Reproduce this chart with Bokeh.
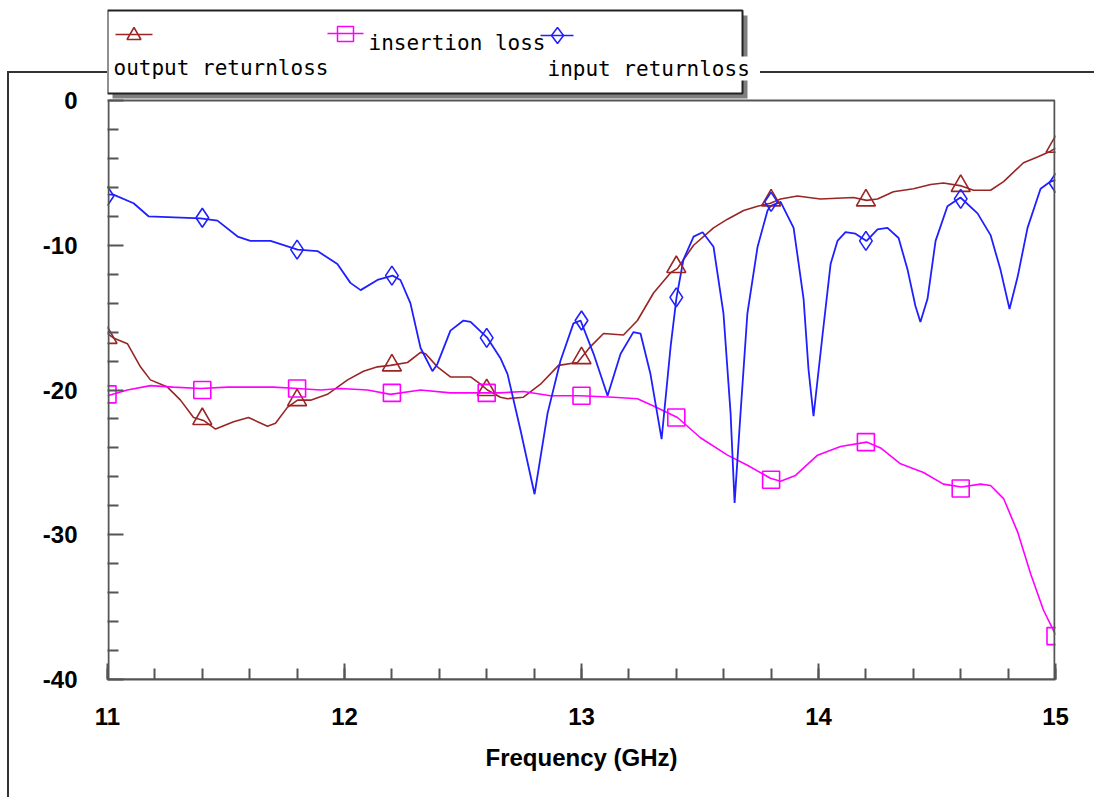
from bokeh.plotting import figure
from bokeh.models import (Range1d, SingleIntervalTicker, FixedTicker, BoxAnnotation, Label,
                          PolyAnnotation, PrintfTickFormatter)
from bokeh.embed import file_html
from bokeh.resources import INLINE

# ---------------- data ----------------
freq_out = [11.0, 11.025, 11.084, 11.139, 11.181, 11.253, 11.308, 11.363, 11.405, 11.456,
            11.532, 11.595, 11.675, 11.709, 11.759, 11.802, 11.857, 11.928, 12.013, 12.08,
            12.139, 12.194, 12.266, 12.321, 12.342, 12.392, 12.447, 12.532, 12.574, 12.603,
            12.658, 12.688, 12.755, 12.827, 12.903, 12.983, 13.038, 13.093, 13.177, 13.236,
            13.304, 13.376, 13.405, 13.473, 13.557, 13.616, 13.684, 13.743, 13.797, 13.84,
            13.911, 14.008, 14.148, 14.203, 14.249, 14.316, 14.401, 14.473, 14.527, 14.603,
            14.654, 14.726, 14.781, 14.865, 14.924, 14.979, 15.0]
output_returnloss = [-16.1, -16.4, -16.8, -18.4, -19.3, -19.8, -20.7, -21.9, -22.1, -22.7,
                     -22.2, -21.9, -22.5, -22.3, -21.2, -20.7, -20.7, -20.3, -19.3, -18.7,
                     -18.4, -18.3, -18.1, -17.4, -17.5, -18.4, -19.1, -19.1, -19.6, -20.0,
                     -20.5, -20.6, -20.5, -19.6, -18.3, -18.1, -17.0, -16.1, -16.2, -15.2,
                     -13.3, -11.9, -11.6, -10.0, -8.8, -8.2, -7.6, -7.3, -7.1, -6.8,
                     -6.6, -6.8, -6.7, -6.9, -6.8, -6.3, -6.1, -5.8, -5.7, -5.9,
                     -6.2, -6.2, -5.6, -4.3, -3.9, -3.5, -3.3]

freq_ins = [11.0, 11.084, 11.181, 11.278, 11.392, 11.506, 11.616, 11.7, 11.802, 11.899,
            11.983, 12.097, 12.194, 12.321, 12.447, 12.586, 12.658, 12.755, 12.869, 12.996,
            13.135, 13.236, 13.304, 13.405, 13.502, 13.616, 13.7, 13.797, 13.84, 13.903,
            13.996, 14.093, 14.203, 14.262, 14.346, 14.443, 14.527, 14.603, 14.684, 14.726,
            14.781, 14.84, 14.895, 14.949, 15.0]
insertion_loss = [-20.4, -20.0, -19.7, -19.8, -19.9, -19.8, -19.8, -19.8, -19.9, -20.0,
                  -19.9, -20.0, -20.3, -20.0, -20.2, -20.2, -20.2, -20.1, -20.4, -20.4,
                  -20.5, -20.6, -21.1, -21.9, -23.3, -24.5, -25.2, -26.1, -26.3, -25.9,
                  -24.5, -23.9, -23.6, -24.0, -25.1, -25.7, -26.5, -26.7, -26.5, -26.6,
                  -27.5, -29.8, -32.7, -35.2, -36.9]

freq_in = [11.0, 11.025, 11.11, 11.173, 11.392, 11.464, 11.549, 11.603, 11.688, 11.802,
           11.886, 11.97, 12.025, 12.068, 12.139, 12.203, 12.236, 12.278, 12.321, 12.371,
           12.392, 12.447, 12.502, 12.532, 12.603, 12.658, 12.688, 12.743, 12.802, 12.857,
           12.911, 12.966, 12.996, 13.051, 13.11, 13.165, 13.219, 13.249, 13.291, 13.338,
           13.376, 13.401, 13.43, 13.473, 13.511, 13.557, 13.599, 13.629, 13.646, 13.671,
           13.7, 13.743, 13.785, 13.797, 13.84, 13.895, 13.937, 13.958, 13.979, 14.017,
           14.051, 14.08, 14.114, 14.156, 14.203, 14.249, 14.291, 14.338, 14.376, 14.409,
           14.43, 14.46, 14.494, 14.544, 14.599, 14.671, 14.726, 14.768, 14.806, 14.84,
           14.882, 14.937, 14.979, 15.0]
input_returnloss = [-6.5, -6.5, -7.1, -8.0, -8.15, -8.3, -9.4, -9.7, -9.7, -10.3,
                    -10.4, -11.3, -12.6, -13.1, -12.4, -12.1, -12.4, -14.0, -17.1, -18.7,
                    -18.2, -15.9, -15.2, -15.3, -16.4, -17.8, -18.9, -22.8, -27.2, -21.6,
                    -18.0, -15.4, -15.2, -17.5, -20.4, -17.5, -16.0, -16.1, -18.9, -23.4,
                    -17.0, -13.6, -11.0, -9.4, -9.1, -10.1, -14.7, -21.6, -27.8, -21.6,
                    -14.7, -10.1, -7.6, -7.3, -7.0, -8.8, -13.7, -18.6, -21.8, -16.2,
                    -11.3, -9.7, -9.1, -9.2, -9.7, -8.9, -8.8, -9.5, -11.7, -14.2,
                    -15.3, -13.7, -9.7, -7.3, -6.7, -7.8, -9.3, -11.7, -14.4, -12.2,
                    -8.8, -6.1, -5.6, -5.5]

marker_freq = [11.0, 11.4, 11.8, 12.2, 12.6, 13.0, 13.4, 13.8, 14.2, 14.6, 15.0]
output_marks = [-16.4, -22.0, -20.7, -18.3, -20.0, -17.8, -11.5, -6.9, -6.9, -5.9, -3.2]
insertion_marks = [-20.3, -20.0, -19.9, -20.2, -20.2, -20.4, -21.9, -26.2, -23.6, -26.8, -37.0]
input_marks = [-6.6, -8.1, -10.3, -12.1, -16.4, -15.2, -13.6, -7.0, -9.7, -6.8, -5.7]

y_major_ticks = [-40, -30, -20, -10, 0]
y_minor_ticks = [-38, -36, -34, -32, -28, -26, -24, -22, -18, -16, -14, -12, -8, -6, -4, -2]

series_names = ["output returnloss", "insertion loss", "input returnloss"]
x_label = "Frequency (GHz)"

# ---------------- styles ----------------
BROWN = "#992525"
PINK = "#ff00ff"
BLUE = "#2020ff"
AXIS = "#555555"

X0, X1, Y0, Y1 = 11.0, 15.0, -40.0, 0.0
FL, FT, FW, FH = 107, 100, 948, 579   # data box position/size in picture pixels
TOP = 8                                # frame extends up to here (room for the legend)
PX_PER_DB = FH / (Y1 - Y0)
Y_TOP = Y1 + (FT - TOP) / PX_PER_DB

css = """
:host { position: relative; }
:host::before { content: ""; position: absolute; left: 7px; top: 71px; width: 100px;
  height: 726px; border-left: 2px solid #333; border-top: 2px solid #333;
  box-sizing: border-box; pointer-events: none; z-index: 10; }
:host::after { content: ""; position: absolute; left: 760px; top: 71px; width: 334px;
  height: 2px; background: #333; pointer-events: none; z-index: 10; }
"""

p = figure(frame_width=FW, frame_height=FT + FH - TOP,
           x_range=Range1d(X0, X1), y_range=Range1d(Y0, Y_TOP),
           output_backend="svg", toolbar_location=None,
           min_border_left=FL, min_border_right=40, min_border_top=TOP, min_border_bottom=111,
           background_fill_color="white", border_fill_color="white",
           stylesheets=[css])
p.grid.visible = False
p.outline_line_color = None

p.xaxis.ticker = SingleIntervalTicker(interval=1, num_minor_ticks=5)
p.yaxis.ticker = FixedTicker(ticks=y_major_ticks, minor_ticks=y_minor_ticks)
p.yaxis.formatter = PrintfTickFormatter(format="%d")
for ax in (p.xaxis[0], p.yaxis[0]):
    ax.major_tick_in = 16
    ax.major_tick_out = 0
    ax.minor_tick_in = 11
    ax.minor_tick_out = 0
    ax.axis_line_color = AXIS
    ax.axis_line_width = 2
    ax.major_tick_line_color = AXIS
    ax.major_tick_line_width = 2
    ax.minor_tick_line_color = AXIS
    ax.minor_tick_line_width = 2
    ax.major_label_text_font = "Liberation Sans"
    ax.major_label_text_font_size = "24px"
    ax.major_label_text_font_style = "bold"
    ax.major_label_text_color = "black"
p.yaxis.axis_line_color = None
p.xaxis.major_label_standoff = 28
p.yaxis.major_label_standoff = 30
p.xaxis.axis_label = x_label
p.xaxis.axis_label_text_font = "Liberation Sans"
p.xaxis.axis_label_text_font_size = "24px"
p.xaxis.axis_label_text_font_style = "bold"
p.xaxis.axis_label_text_color = "black"
p.xaxis.axis_label_standoff = 16


# ---------------- picture pixels -> data units (for decorations) ----------------
def dx(X):
    return X0 + (X - FL) * (X1 - X0) / FW


def dy(Y):
    return Y1 - (Y - FT) / PX_PER_DB


def box(x0, y0, x1, y1, fill=None, line=None, lw=1.0):
    b = BoxAnnotation(left=dx(x0), right=dx(x1), top=dy(y0), bottom=dy(y1),
                      fill_color=fill, fill_alpha=1.0 if fill else 0.0,
                      line_color=line, line_alpha=1.0 if line else 0.0, line_width=lw)
    p.add_layout(b)


def poly(pts, line, lw=1.5):
    pa = PolyAnnotation(xs=[dx(a) for a, b in pts], ys=[dy(b) for a, b in pts],
                        fill_alpha=0.0, line_color=line, line_alpha=1.0, line_width=lw)
    p.add_layout(pa)


# plot box (left / top / right lines of the data area)
p.add_layout(BoxAnnotation(left=dx(FL + 1), right=dx(FL + FW - 1), top=Y1, bottom=Y0,
                           fill_alpha=0.0, line_color=AXIS, line_alpha=1.0, line_width=2))

# ---------------- curves ----------------
p.line(freq_out, output_returnloss, line_color=BROWN, line_width=1.6)
p.line(freq_ins, insertion_loss, line_color=PINK, line_width=1.6)
p.line(freq_in, input_returnloss, line_color=BLUE, line_width=1.8)
p.scatter(marker_freq, output_marks, marker="triangle", size=19, fill_color=None,
          line_color=BROWN, line_width=1.6)
p.scatter(marker_freq, insertion_marks, marker="square", size=17, fill_color=None,
          line_color=PINK, line_width=1.6)
p.scatter(marker_freq, input_marks, marker="diamond", size=19, fill_color=None,
          line_color=BLUE, line_width=1.6)

# ---------------- legend (drawn in the space above the data box) ----------------
box(112, 15, 747, 98, fill="#7f7f7f")
box(107, 10, 742, 93, fill="white", line="#222222", lw=2)

box(115, 33.3, 152, 34.7, fill=BROWN)
poly([(126.5, 39), (140.5, 39), (133.5, 27)], BROWN)
box(327, 32.3, 363, 33.7, fill=PINK)
box(337, 26, 353, 41, line=PINK, lw=1.5)
box(540, 34.3, 573, 35.7, fill=BLUE)
poly([(557, 27), (563, 35), (557, 43), (551, 35)], BLUE)

FONT = "DejaVu Sans Mono"
p.add_layout(Label(x=dx(113), y=dy(67), text=series_names[0], text_font=FONT,
                   text_font_size="21px", text_baseline="alphabetic", text_color="black"))
p.add_layout(Label(x=dx(368), y=dy(42), text=series_names[1], text_font=FONT,
                   text_font_size="21px", text_baseline="alphabetic", text_color="black"))
p.add_layout(Label(x=dx(547), y=dy(68), text=series_names[2], text_font=FONT,
                   text_font_size="21px", text_baseline="alphabetic", text_color="black",
                   background_fill_color="white", background_fill_alpha=1.0))

open("out.html", "w").write(file_html(p, INLINE))
